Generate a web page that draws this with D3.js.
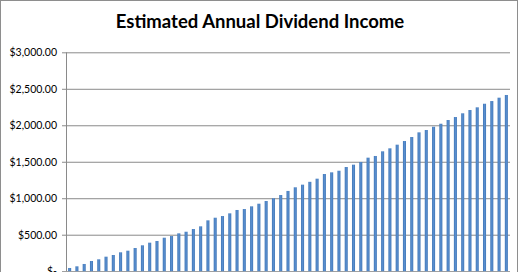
<!DOCTYPE html>
<html>
<head>
<meta charset="utf-8">
<script src="https://cdn.jsdelivr.net/npm/d3@7/dist/d3.min.js"></script>
<style>
  html, body { margin: 0; padding: 0; background: #fff; }
  svg { display: block; }
</style>
</head>
<body>
<svg id="chart" width="520" height="272"></svg>
<script>
const title = "Estimated Annual Dividend Income";
const years = d3.range(1, 62);
const income = [
  44, 67, 99, 140, 163, 199, 222, 259, 281, 318,
  355, 391, 414, 459, 482, 519, 541, 578, 615, 697,
  733, 756, 793, 839, 852, 889, 925, 962, 1000, 1044,
  1100, 1150, 1186, 1225, 1268, 1332, 1355, 1377, 1428, 1460,
  1497, 1556, 1579, 1643, 1684, 1734, 1784, 1839, 1903, 1935,
  1980, 2021, 2072, 2113, 2164, 2209, 2246, 2295, 2332, 2378,
  2415
];
const yTicks = [0, 500, 1000, 1500, 2000, 2500, 3000];

const svg = d3.select("#chart");

// chart border
svg.append("rect")
  .attr("x", 0.5).attr("y", 0.5)
  .attr("width", 517).attr("height", 300)
  .attr("fill", "#fff").attr("stroke", "#8e8e8e").attr("stroke-width", 1);

const mLeft = 66, mRight = 510, mTop = 52.3, mBottom = 271.2;

const x = d3.scaleBand().domain(years).range([mLeft, mRight]).paddingInner(0.58).paddingOuter(0.29);
const y = d3.scaleLinear().domain([0, 3000]).range([mBottom, mTop]);

const fmt = v => v === 0 ? "$-" : "$" + d3.format(",.2f")(v);

// gridlines + y axis
const yAxis = d3.axisLeft(y).tickValues(yTicks).tickSize(-(mRight - mLeft)).tickFormat(fmt).tickPadding(9);
const gy = svg.append("g").attr("transform", `translate(${mLeft},0)`).call(yAxis);
gy.select(".domain").remove();
gy.selectAll(".tick line").attr("stroke", "#8a8a8a").attr("x1", -4).attr("stroke-width", 1);
gy.selectAll(".tick text")
  .attr("fill", "#000")
  .style("font-family", "Lato, 'Open Sans', sans-serif")
  .style("font-size", "10.5px");

// vertical axis line
svg.append("line")
  .attr("x1", mLeft + 0.5).attr("x2", mLeft + 0.5)
  .attr("y1", mTop).attr("y2", mBottom)
  .attr("stroke", "#8a8a8a");

// bars
const grad = svg.append("defs").append("linearGradient").attr("id", "bg")
  .attr("x1", "0%").attr("x2", "100%");
grad.append("stop").attr("offset", "0%").attr("stop-color", "#4177b6");
grad.append("stop").attr("offset", "50%").attr("stop-color", "#5a8fd0");
grad.append("stop").attr("offset", "100%").attr("stop-color", "#4177b6");

svg.append("g").selectAll("rect").data(years).join("rect")
  .attr("x", d => x(d))
  .attr("width", x.bandwidth())
  .attr("y", (d, i) => y(income[i]))
  .attr("height", (d, i) => y(0) - y(income[i]))
  .attr("fill", "url(#bg)");

// title
svg.append("text")
  .attr("x", 260).attr("y", 28)
  .attr("text-anchor", "middle")
  .style("font-family", "Lato, 'Open Sans', sans-serif")
  .style("font-weight", "bold")
  .style("font-size", "18.5px")
  .attr("fill", "#000")
  .text(title);
</script>
</body>
</html>
